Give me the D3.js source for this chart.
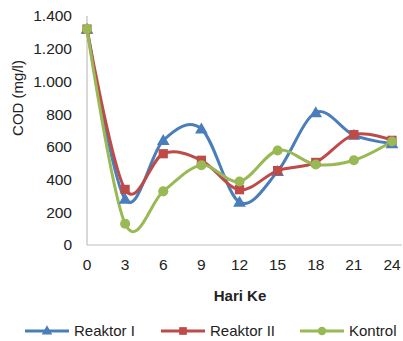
<!DOCTYPE html>
<html><head><meta charset="utf-8">
<script src="https://cdn.jsdelivr.net/npm/d3@7"></script>
<style>body{margin:0;background:#fff}svg{display:block;font-family:"Liberation Sans",Arial,sans-serif}</style>
</head><body><svg id="c" width="403" height="341"></svg>
<script>
const days = [0, 3, 6, 9, 12, 15, 18, 21, 24];
const reaktorI = [1320, 280, 640, 710, 262, 450, 810, 672, 620];
const reaktorII = [1320, 340, 558, 518, 338, 455, 505, 675, 640];
const kontrol = [1320, 130, 328, 488, 388, 578, 492, 518, 633];
const yTicks = [0, 200, 400, 600, 800, 1000, 1200, 1400];
const yTickLabels = ["0", "200", "400", "600", "800", "1.000", "1.200", "1.400"];
const seriesNames = ["Reaktor I", "Reaktor II", "Kontrol"];

const svg = d3.select("#c");
const x = d3.scaleLinear().domain([0, 24]).range([87, 392]);
const y = d3.scaleLinear().domain([0, 1400]).range([245, 16]);

const series = [
  {name: seriesNames[0], values: reaktorI, color: "#4a7ebb", marker: d3.symbolTriangle, size: 70},
  {name: seriesNames[1], values: reaktorII, color: "#be4b48", marker: d3.symbolSquare, size: 85},
  {name: seriesNames[2], values: kontrol, color: "#98b954", marker: d3.symbolCircle, size: 80}
];

// axes
svg.append("line").attr("x1", 87).attr("x2", 87).attr("y1", 16).attr("y2", 245)
  .attr("stroke", "#bfbfbf").attr("stroke-width", 1.2);
svg.append("line").attr("x1", 87).attr("x2", 402).attr("y1", 245).attr("y2", 245)
  .attr("stroke", "#bfbfbf").attr("stroke-width", 1.2);

svg.append("g").selectAll("text").data(yTicks).join("text")
  .attr("x", 72).attr("y", d => y(d)).attr("dy", "0.35em")
  .attr("text-anchor", "end").attr("font-size", 15.5).attr("fill", "#222")
  .text((d, i) => yTickLabels[i]);

svg.append("g").selectAll("text").data(days).join("text")
  .attr("x", d => x(d)).attr("y", 270)
  .attr("text-anchor", "middle").attr("font-size", 15.5).attr("fill", "#222")
  .text(d => d);

svg.append("text").attr("transform", "translate(23,98) rotate(-90)")
  .attr("text-anchor", "middle").attr("font-size", 15).attr("fill", "#222")
  .text("COD (mg/l)");
svg.append("text").attr("x", 240).attr("y", 301).attr("text-anchor", "middle")
  .attr("font-size", 15).attr("font-weight", "bold").attr("fill", "#222").text("Hari Ke");

const line = d3.line().x((d, i) => x(days[i])).y(d => y(d)).curve(d3.curveCatmullRom.alpha(0));

series.forEach(s => {
  svg.append("path").attr("d", line(s.values)).attr("fill", "none")
    .attr("stroke", s.color).attr("stroke-width", 3);
});
series.forEach(s => {
  svg.append("g").selectAll("path").data(s.values).join("path")
    .attr("transform", (d, i) => `translate(${x(days[i])},${y(d) + (s.marker === d3.symbolTriangle ? 1 : 0)})`)
    .attr("d", d3.symbol().type(s.marker).size(s.size)).attr("fill", s.color);
});

// legend
const legendX = [25, 161, 300];
series.forEach((s, i) => {
  const g = svg.append("g").attr("transform", `translate(${legendX[i]},331)`);
  g.append("line").attr("x1", 0).attr("x2", 44).attr("stroke", s.color).attr("stroke-width", 3);
  g.append("path").attr("transform", `translate(22,${s.marker === d3.symbolTriangle ? 0.5 : 0})`)
    .attr("d", d3.symbol().type(s.marker).size(s.size * 0.7)).attr("fill", s.color);
  g.append("text").attr("x", 49).attr("dy", "0.35em").attr("font-size", 15).attr("fill", "#222").text(s.name);
});
</script></body></html>
